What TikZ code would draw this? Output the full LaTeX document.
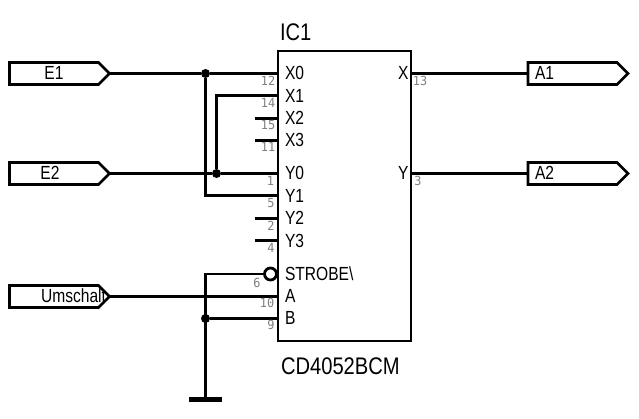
\documentclass[tikz,border=0pt]{standalone}
\usepackage{fontspec}
\setmainfont{Liberation Sans}
\newfontfamily\pinfont{DejaVu Sans Mono}[Scale=1]
\usetikzlibrary{shapes.symbols}
\tikzset{
  x=1pt,y=-1pt,
  wire/.style={line width=2.8pt,black},
  icbody/.style={draw=black,line width=2.8pt,fill=white,minimum width=133pt,minimum height=290pt,inner sep=0pt,outer sep=0pt},
  port/.style={draw=black,line width=2.8pt,fill=white,signal,signal to=east,signal pointer angle=90,minimum width=100pt,minimum height=22pt,inner sep=0pt,outer sep=0pt},
  lbl/.style={font=\fontsize{19}{19}\selectfont,xscale=.82,inner sep=0pt,outer sep=0pt,text height=13.6pt,text depth=0pt},
  biglbl/.style={font=\fontsize{24}{24}\selectfont,xscale=.84,inner sep=0pt,outer sep=0pt,text height=17pt,text depth=0pt,anchor=west},
  pinl/.style={lbl,anchor=west},
  pinr/.style={lbl,anchor=east},
  num/.style={font=\pinfont\fontsize{12.5}{12.5}\selectfont,text=black!50,xscale=.95,inner sep=0pt},
  dot/.style={circle,fill=black,inner sep=0pt,minimum size=9pt},
  bubble/.style={circle,draw=black,fill=white,line width=2.8pt,inner sep=0pt,minimum size=12pt,outer sep=0pt},
  gndbar/.style={line width=5pt,black}
}
\begin{document}
\begin{tikzpicture}
\useasboundingbox (0,0) rectangle (639,418);
\fill[white] (0,0) rectangle (639,418);
% coordinates of pins and nets
\coordinate (pX0) at (278,73.5);
\coordinate (pX1) at (278,95.5);
\coordinate (pX2) at (278,118.5);
\coordinate (pX3) at (278,140.5);
\coordinate (pY0) at (278,173.5);
\coordinate (pY1) at (278,195.5);
\coordinate (pY2) at (278,218.5);
\coordinate (pY3) at (278,240.5);
\coordinate (pA) at (278,296.5);
\coordinate (pB) at (278,318.5);
\coordinate (pOX) at (411,73.5);
\coordinate (pOY) at (411,173.5);
\coordinate (sX2) at (255,118.5);
\coordinate (sX3) at (255,140.5);
\coordinate (sY2) at (255,218.5);
\coordinate (sY3) at (255,240.5);
\coordinate (gnd) at (205.5,399);
\coordinate (gndL) at (189,399);
\coordinate (gndR) at (222,399);
% junctions
\node[dot] (j1) at (205.5,73.5) {};
\node[dot] (j2) at (216.5,173.5) {};
\node[dot] (j3) at (205.5,318.5) {};
% ports
\node[port] (e1) at (54,73.5) {};
\node[port] (e2) at (54,173.5) {};
\node[port] (um) at (54,296.5) {};
\node[port] (a1) at (572.5,73.5) {};
\node[port] (a2) at (572.5,173.5) {};
% wires
\draw[wire] (e1.east) -- (j1) -- (pX0);
\draw[wire] (e2.east) -- (j2) -- (pY0);
\draw[wire] (j2) |- (pX1);
\draw[wire] (j1) |- (pY1);
\draw[wire] (sX2) -- (pX2);
\draw[wire] (sX3) -- (pX3);
\draw[wire] (sY2) -- (pY2);
\draw[wire] (sY3) -- (pY3);
\draw[wire] (um.east) -- (pA);
\draw[wire] (j3) -- (pB);
\draw[wire] (pOX) -- (a1.west);
\draw[wire] (pOY) -- (a2.west);
% body
\node[icbody] (ic) at (344.5,196) {};
\node[bubble] (inv) at (270.5,274) {};
\draw[wire] (inv) -| (gnd);
\draw[gndbar] (gndL) -- (gndR);
% texts
\node[biglbl] (name) at (280,32) {IC1};
\node[biglbl] (type) at (281,366) {CD4052BCM};
\node[pinl] (tX0) at (285,73) {X0};
\node[pinl] (tX1) at (285,95.5) {X1};
\node[pinl] (tX2) at (285,118) {X2};
\node[pinl] (tX3) at (285,140) {X3};
\node[pinl] (tY0) at (285,173) {Y0};
\node[pinl] (tY1) at (285,195.5) {Y1};
\node[pinl] (tY2) at (285,218) {Y2};
\node[pinl] (tY3) at (285,240.5) {Y3};
\node[pinl] (tS) at (285,274) {STROBE\textbackslash};
\node[pinl] (tA) at (285,296) {A};
\node[pinl] (tB) at (285,318) {B};
\node[pinr] (tOX) at (408.5,73) {X};
\node[pinr] (tOY) at (408.5,173) {Y};
\node[lbl] (le1) at (54,73) {E1};
\node[lbl] (le2) at (50,173) {E2};
\node[lbl,anchor=east] (lum) at (106,296) {Umschalt};
\node[lbl,anchor=west] (la1) at (535,73) {A1};
\node[lbl,anchor=west] (la2) at (535,173) {A2};
\node[num] (n12) at (268,81) {12};
\node[num] (n14) at (268,103) {14};
\node[num] (n15) at (268,125) {15};
\node[num] (n11) at (268,147) {11};
\node[num] (n1) at (270.5,181) {1};
\node[num] (n5) at (271,203) {5};
\node[num] (n2) at (271,226) {2};
\node[num] (n4) at (271,248) {4};
\node[num] (n6) at (257,283) {6};
\node[num] (n10) at (267,303) {10};
\node[num] (n9) at (271,325) {9};
\node[num] (n13) at (420,81) {13};
\node[num] (n3) at (418,181) {3};
\end{tikzpicture}
\end{document}
